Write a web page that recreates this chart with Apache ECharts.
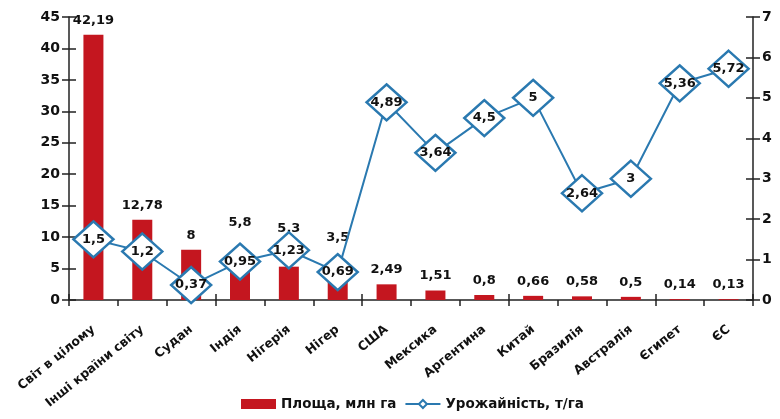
<!DOCTYPE html>
<html>
<head>
<meta charset="utf-8">
<script src="https://cdn.jsdelivr.net/npm/echarts@6/dist/echarts.min.js"></script>
<style>
  html, body { margin: 0; padding: 0; background: #fff; }
  #chart { width: 780px; height: 419px; }
</style>
</head>
<body>
<div id="chart"></div>
<script>
// Countries / regions along the x axis
const categories = ['Світ в цілому', 'Інші країни світу', 'Судан', 'Індія', 'Нігерія', 'Нігер', 'США',
  'Мексика', 'Аргентина', 'Китай', 'Бразилія', 'Австралія', 'Єгипет', 'ЄС'];
// Harvested area, million ha
const areaValues = [42.19, 12.78, 8, 5.8, 5.3, 3.5, 2.49, 1.51, 0.8, 0.66, 0.58, 0.5, 0.14, 0.13];
// Yield, t/ha
const yieldValues = [1.5, 1.2, 0.37, 0.95, 1.23, 0.69, 4.89, 3.64, 4.5, 5, 2.64, 3, 5.36, 5.72];
const areaName = 'Площа, млн га';
const yieldName = 'Урожайність, т/га';

const FONT = 'DejaVu Sans';
const BAR_COLOR = '#c4161f';
const LINE_COLOR = '#2a79b0';
const comma = v => String(v).replace('.', ',');

// Bars whose value label would sit under a yield diamond get lifted higher
const liftedLabels = { 3: 34, 4: 32, 5: 34 };

const barData = areaValues.map((v, i) => {
  const item = { value: v };
  if (liftedLabels[i] !== undefined) {
    item.label = { distance: liftedLabels[i] };
  }
  return item;
});

const axisLineStyle = { color: '#222', width: 1.5 };
const tickStyle = { color: '#222', width: 1.5 };

const chart = echarts.init(document.getElementById('chart'), null, { renderer: 'canvas' });
chart.setOption({
  animation: false,
  grid: { left: 69, right: 27, top: 17, bottom: 119 },
  legend: {
    bottom: 3,
    left: 236,
    itemGap: 8,
    itemWidth: 35,
    itemHeight: 10,
    textStyle: { fontFamily: FONT, fontWeight: 'bold', fontSize: 13.5, color: '#111' },
    data: [
      { name: areaName, icon: 'rect' },
      { name: yieldName }
    ]
  },
  xAxis: [
    {
      type: 'category',
      data: categories,
      position: 'bottom',
      axisLine: { lineStyle: axisLineStyle },
      axisTick: { show: true, inside: false, length: 6, alignWithLabel: false, lineStyle: tickStyle },
      axisLabel: {
        interval: 0, rotate: 39, margin: 28,
        fontFamily: FONT, fontWeight: 'bold', fontSize: 12.5, color: '#111'
      }
    },
    {
      // companion axis: draws the inner half of the crossing ticks
      type: 'category',
      data: categories,
      position: 'bottom',
      offset: 0,
      axisLine: { show: false },
      axisTick: { show: true, inside: true, length: 6, alignWithLabel: false, lineStyle: tickStyle },
      axisLabel: { show: false },
      splitLine: { show: false }
    }
  ],
  yAxis: [
    {
      type: 'value', position: 'left', min: 0, max: 45, interval: 5,
      axisLine: { show: true, lineStyle: axisLineStyle },
      axisTick: { show: true, inside: false, length: 7, lineStyle: tickStyle },
      axisLabel: { fontFamily: FONT, fontWeight: 'bold', fontSize: 14, color: '#111', margin: 9 },
      splitLine: { show: false }
    },
    {
      type: 'value', position: 'right', min: 0, max: 7, interval: 1,
      axisLine: { show: true, lineStyle: axisLineStyle },
      axisTick: { show: true, inside: false, length: 7, lineStyle: tickStyle },
      axisLabel: { fontFamily: FONT, fontWeight: 'bold', fontSize: 14, color: '#111', margin: 9 },
      splitLine: { show: false }
    },
    {
      type: 'value', position: 'left', offset: 0, min: 0, max: 45, interval: 5,
      axisLine: { show: false },
      axisTick: { show: true, inside: true, length: 7, lineStyle: tickStyle },
      axisLabel: { show: false },
      splitLine: { show: false }
    },
    {
      type: 'value', position: 'right', offset: 0, min: 0, max: 7, interval: 1,
      axisLine: { show: false },
      axisTick: { show: true, inside: true, length: 7, lineStyle: tickStyle },
      axisLabel: { show: false },
      splitLine: { show: false }
    }
  ],
  series: [
    {
      name: areaName,
      type: 'bar',
      xAxisIndex: 0,
      yAxisIndex: 0,
      data: barData,
      barWidth: 20,
      itemStyle: { color: BAR_COLOR },
      label: {
        show: true, position: 'top', distance: 8,
        fontFamily: FONT, fontWeight: 'bold', fontSize: 13, color: '#111',
        formatter: p => comma(p.value)
      },
      z: 2
    },
    {
      name: yieldName,
      type: 'line',
      xAxisIndex: 0,
      yAxisIndex: 1,
      data: yieldValues,
      symbol: 'diamond',
      symbolSize: [40, 36],
      showAllSymbol: true,
      lineStyle: { color: LINE_COLOR, width: 2 },
      itemStyle: { color: '#fff', borderColor: LINE_COLOR, borderWidth: 2.5 },
      label: {
        show: true, position: 'inside',
        fontFamily: FONT, fontWeight: 'bold', fontSize: 13, color: '#111',
        formatter: p => comma(p.value)
      },
      z: 5
    }
  ]
});
</script>
</body>
</html>
